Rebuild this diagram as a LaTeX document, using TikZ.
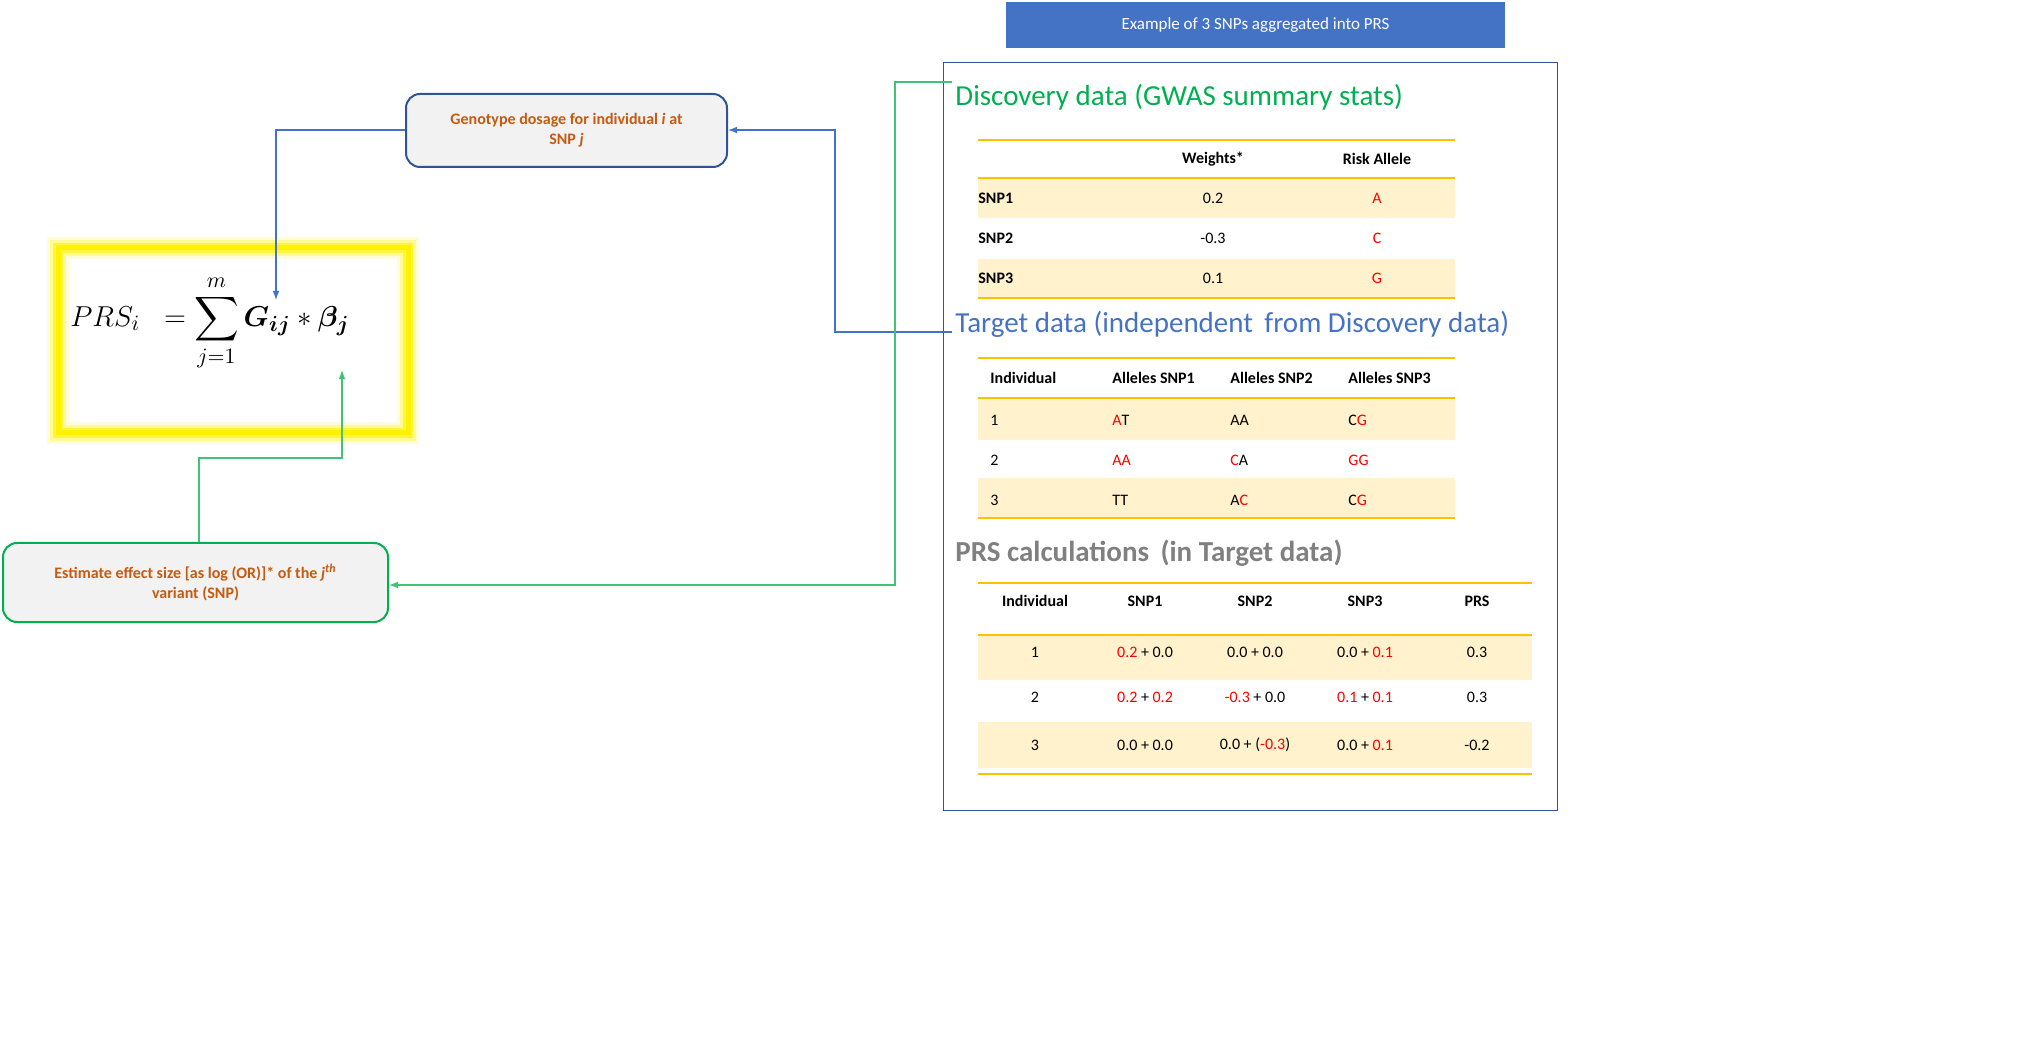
\documentclass[tikz,border=0pt]{standalone}
\usepackage{amsmath}
\usepackage{amssymb}
\usepackage{fontspec}
\setmainfont{Carlito}
\definecolor{hdrblue}{RGB}{68,114,196}
\definecolor{navy}{RGB}{47,84,150}
\definecolor{dgreen}{RGB}{0,176,80}
\definecolor{lgreen}{RGB}{80,200,130}
\definecolor{gold}{RGB}{255,192,0}
\definecolor{cream}{RGB}{255,242,204}
\definecolor{rust}{RGB}{197,90,17}
\definecolor{boxgray}{RGB}{242,242,242}
\definecolor{hgray}{RGB}{128,128,128}
\definecolor{alred}{RGB}{255,0,0}
\newcommand{\rd}[1]{\textcolor{alred}{#1}}
\tikzset{
  cell/.style={font=\fontsize{8}{9.5}\selectfont, inner sep=0pt},
  hcell/.style={cell, font=\fontsize{8}{9.5}\selectfont\bfseries},
  heading/.style={anchor=west, inner sep=0pt, font=\fontsize{14.5}{17}\selectfont},
  rule/.style={gold, line width=1.2pt},
  shade/.style={fill=cream, draw=none},
  callout/.style={draw, rounded corners=7pt, line width=1pt, fill=boxgray, text=rust,
    font=\fontsize{8}{10}\selectfont\bfseries, align=center, inner sep=0pt},
  link/.style={line width=0.6pt, -latex}
}
\begin{document}
\begin{tikzpicture}[x=0.5pt, y=-0.5pt]
    \useasboundingbox (0,0) rectangle (2032,1052);
    % banner and frame
    \node[fill=hdrblue, text=white, minimum width=249.5pt, minimum height=23pt, inner sep=0pt,
      font=\fontsize{8.5}{10}\selectfont] (banner) at (1255.5,25) {Example of 3 SNPs aggregated into PRS};
    \draw[navy, line width=0.5pt] (943,63) rectangle (1557,810);

    % discovery table
    \node[heading, text=dgreen] (disc) at (955,97) {Discovery data (GWAS summary stats)};
    \fill[shade] (978,178) rectangle (1455,218);
    \fill[shade] (978,259) rectangle (1455,298);
    \foreach \y in {140,178,298} \draw[rule] (978,\y) -- (1455,\y);
    \node[hcell] (dw) at (1213,159) {Weights*};
    \node[hcell] (dr) at (1377,159) {Risk Allele};
    \foreach \n/\w/\a [count=\k] in {1/0.2/A, 2/-0.3/C, 3/0.1/G} {
      \node[hcell, anchor=west] (ds\k) at (978,158+40*\k) {SNP\n};
      \node[cell] (dv\k) at (1213,158+40*\k) {\w};
      \node[cell, text=alred] (da\k) at (1377,158+40*\k) {\a};
    }

    % target table
    \node[heading, text=hdrblue] (targ) at (955,324) {Target data (independent\, from Discovery data)};
    \fill[shade] (978,398) rectangle (1455,440);
    \fill[shade] (978,478) rectangle (1455,518);
    \foreach \y in {358,398,518} \draw[rule] (978,\y) -- (1455,\y);
    \node[hcell, anchor=west] (th0) at (990,378) {Individual};
    \node[hcell, anchor=west] (th1) at (1112,378) {Alleles SNP1};
    \node[hcell, anchor=west] (th2) at (1230,378) {Alleles SNP2};
    \node[hcell, anchor=west] (th3) at (1348,378) {Alleles SNP3};
    \foreach \n/\p/\q/\r [count=\k] in {1/\rd{A}T/AA/C\rd{G}, 2/\rd{AA}/\rd{C}A/\rd{GG}, 3/TT/A\rd{C}/C\rd{G}} {
      \node[cell, anchor=west] (ti\k) at (990,380+40*\k) {\n};
      \node[cell, anchor=west] (tp\k) at (1112,380+40*\k) {\p};
      \node[cell, anchor=west] (tq\k) at (1230,380+40*\k) {\q};
      \node[cell, anchor=west] (tr\k) at (1348,380+40*\k) {\r};
    }

    % PRS calculation table
    \node[heading, text=hgray, font=\fontsize{14.5}{17}\selectfont\bfseries] (calc) at (955,553) {PRS calculations\, (in Target data)};
    \fill[shade] (978,635) rectangle (1532,680);
    \fill[shade] (978,722) rectangle (1532,768);
    \foreach \y in {583,635,774} \draw[rule] (978,\y) -- (1532,\y);
    \foreach \h/\x [count=\k] in {Individual/1035, SNP1/1145, SNP2/1255, SNP3/1365, PRS/1477}
      \node[hcell] (ch\k) at (\x,601) {\h};
    \foreach \n/\a/\b/\c/\s/\yy [count=\k] in {
        1/\rd{0.2} + 0.0/0.0 + 0.0/0.0 + \rd{0.1}/0.3/652,
        2/\rd{0.2} + \rd{0.2}/\rd{-0.3} + 0.0/\rd{0.1} + \rd{0.1}/0.3/697,
        3/0.0 + 0.0/0.0 + (\rd{-0.3})/0.0 + \rd{0.1}/-0.2/745} {
      \node[cell] (cn\k) at (1035,\yy) {\n};
      \node[cell] (ca\k) at (1145,\yy) {\a};
      \node[cell] (cb\k) at (1255,\yy) {\b};
      \node[cell] (cc\k) at (1365,\yy) {\c};
      \node[cell] (cs\k) at (1477,\yy) {\s};
    }

    % formula box with glow
    \foreach \w/\o in {11/0.15, 8/0.3, 5/0.6} \draw[yellow, line width=\w pt, opacity=\o] (58,248) rectangle (408,433);
    \draw[yellow, line width=2.5pt] (58,248) rectangle (408,433);
    \node[font=\fontsize{15.5}{19}\selectfont] (prs) at (210,323)
      {$\displaystyle PRS_i\;\;=\sum_{j=1}^{m}\boldsymbol{G_{ij}}*\boldsymbol{\beta_j}$};
    \coordinate (gin) at (276,300);
    \coordinate (bin) at (342,370);

    % callouts
    \node[callout, draw=navy, minimum width=160.5pt, minimum height=36.5pt] (geno) at (566.5,130.5)
      {Genotype dosage for individual \textit{i} at\\ SNP \textit{j}};
    \node[callout, draw=dgreen, minimum width=192.5pt, minimum height=39.5pt] (est) at (195.5,582.5)
      {Estimate effect size [as log (OR)]* of the \textit{j\textsuperscript{th}}\\ variant (SNP)};

    % connectors
    \draw[link, hdrblue] (geno.west |- 0,130) -| (gin);
    \draw[link, hdrblue] (targ.west) ++(-3,8) -| (835,130) -- (geno.east |- 0,130);
    \draw[link, lgreen!80!dgreen] (disc.west) ++(-3,-15) -| (895,585) -- (est.east |- 0,585);
    \draw[link, lgreen!80!dgreen] (est.north -| 199,0) |- (342,458) -- (bin);
\end{tikzpicture}
\end{document}
